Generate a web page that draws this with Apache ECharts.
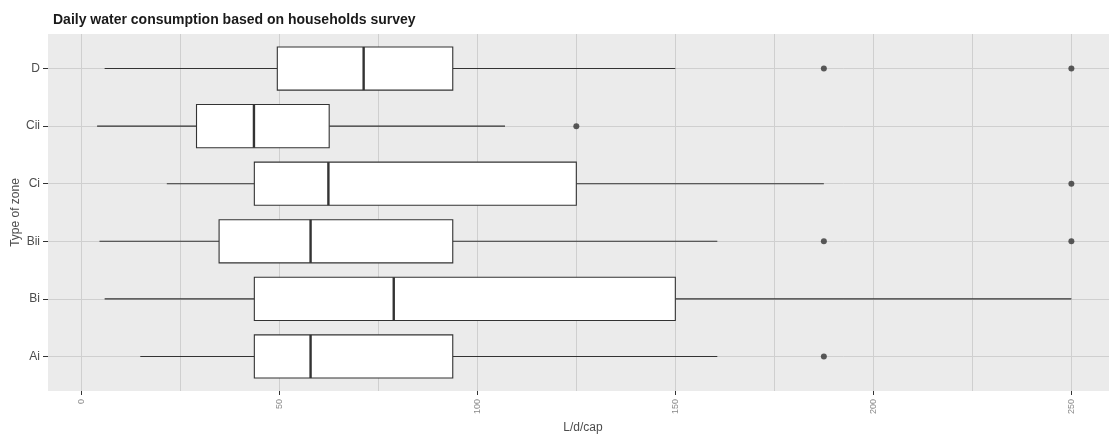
<!DOCTYPE html>
<html>
<head>
<meta charset="utf-8">
<script src="https://cdn.jsdelivr.net/npm/echarts@6/dist/echarts.min.js"></script>
<style>
html,body{margin:0;padding:0;background:#fff;}
#chart{width:1109px;height:436px;}
</style>
</head>
<body>
<div id="chart"></div>
<script>
// ---- data ----
const categories  = ['Ai', 'Bi', 'Bii', 'Ci', 'Cii', 'D'];
const whiskerLow  = [14.9, 5.9, 4.6, 21.6, 4.0, 5.9];
const q1          = [43.7, 43.7, 34.8, 43.7, 29.1, 49.5];
const median      = [57.9, 78.9, 57.9, 62.4, 43.6, 71.3];
const q3          = [93.8, 150.0, 93.8, 125.0, 62.6, 93.8];
const whiskerHigh = [160.6, 250.0, 160.6, 187.5, 107.0, 150.0];
const outlierCat  = ['Ai', 'Bii', 'Bii', 'Ci', 'Cii', 'D', 'D'];
const outlierVal  = [187.5, 187.5, 250.0, 250.0, 125.0, 187.5, 250.0];
const xTicks      = [0, 50, 100, 150, 200, 250];
const xGridTicks  = [0, 25, 50, 75, 100, 125, 150, 175, 200, 225, 250];
const titleText   = 'Daily water consumption based on households survey';
const xName       = 'L/d/cap';
const yName       = 'Type of zone';

const catIdx = categories.map((c, i) => i);
const boxData = categories.map((c, i) => [i, whiskerLow[i], q1[i], median[i], q3[i], whiskerHigh[i]]);
const outData = outlierCat.map((c, i) => [outlierVal[i], categories.indexOf(c)]);

const FONT = "'Liberation Sans', Arial, sans-serif";
const chart = echarts.init(document.getElementById('chart'), null, {renderer: 'canvas'});

function renderBox(params, api) {
  const y = api.value(0);
  const lo = api.coord([api.value(1), y]);
  const a = api.coord([api.value(2), y]);
  const m = api.coord([api.value(3), y]);
  const b = api.coord([api.value(4), y]);
  const hi = api.coord([api.value(5), y]);
  const h = api.size([0, 0.75])[1];
  const cy = lo[1];
  const lineStyle = {stroke: '#333333', lineWidth: 1.1};
  return {
    type: 'group',
    children: [
      {type: 'line', shape: {x1: lo[0], y1: cy, x2: a[0], y2: cy}, style: lineStyle},
      {type: 'line', shape: {x1: b[0], y1: cy, x2: hi[0], y2: cy}, style: lineStyle},
      {type: 'rect', shape: {x: a[0], y: cy - h / 2, width: b[0] - a[0], height: h},
       style: {fill: '#ffffff', stroke: '#333333', lineWidth: 1.1}},
      {type: 'line', shape: {x1: m[0], y1: cy - h / 2, x2: m[0], y2: cy + h / 2},
       style: {stroke: '#333333', lineWidth: 2.4}}
    ]
  };
}

const X_MIN = -8.4, X_MAX = 259.5;

const option = {
  animation: false,
  backgroundColor: '#ffffff',
  title: {
    text: titleText,
    left: 48, top: 8,
    textStyle: {fontFamily: FONT, fontSize: 14, fontWeight: 'bold', color: '#1a1a1a'}
  },
  grid: {
    left: 48, right: 0, top: 34, bottom: 45,
    show: true, backgroundColor: '#EBEBEB', borderWidth: 0,
    containLabel: false, outerBoundsMode: 'none'
  },
  xAxis: [
    {
      type: 'value', min: X_MIN, max: X_MAX, position: 'bottom',
      axisLine: {show: false, onZero: false},
      axisTick: {show: false, customValues: xGridTicks},
      axisLabel: {show: false, customValues: xGridTicks},
      splitLine: {show: true, lineStyle: {color: '#cfcfcf', width: 1}}
    },
    {
      type: 'value', min: X_MIN, max: X_MAX, position: 'bottom',
      axisLine: {show: false, onZero: false},
      axisTick: {show: true, customValues: xTicks, length: 4, lineStyle: {color: '#333333', width: 1}},
      axisLabel: {show: true, customValues: xTicks, rotate: 90, margin: 8,
        fontFamily: FONT, fontSize: 9, color: '#8a8a8a'},
      splitLine: {show: false},
      name: xName, nameLocation: 'middle', nameGap: 31, nameMoveOverlap: false,
      nameTextStyle: {fontFamily: FONT, fontSize: 12, color: '#4d4d4d', padding: [0, 0, 0, 9]}
    }
  ],
  yAxis: {
    type: 'value', min: -0.6, max: 5.6,
    axisLine: {show: false, onZero: false},
    axisTick: {show: true, customValues: catIdx, length: 5, lineStyle: {color: '#333333', width: 1}},
    axisLabel: {show: true, customValues: catIdx, margin: 8,
      formatter: v => categories[Math.round(v)],
      fontFamily: FONT, fontSize: 12, color: '#4d4d4d'},
    splitLine: {show: true, lineStyle: {color: '#cfcfcf', width: 1}},
    name: yName, nameLocation: 'middle', nameGap: 26, nameRotate: 90, nameMoveOverlap: false,
    nameTextStyle: {fontFamily: FONT, fontSize: 12, color: '#4d4d4d'}
  },
  series: [
    {
      type: 'custom', xAxisIndex: 0, yAxisIndex: 0,
      renderItem: renderBox,
      encode: {x: [1, 2, 3, 4, 5], y: 0},
      data: boxData,
      z: 2
    },
    {
      type: 'scatter', xAxisIndex: 0, yAxisIndex: 0,
      data: outData, symbol: 'circle', symbolSize: 6,
      itemStyle: {color: '#333333'},
      z: 3
    }
  ]
};
chart.setOption(option);
</script>
</body>
</html>
